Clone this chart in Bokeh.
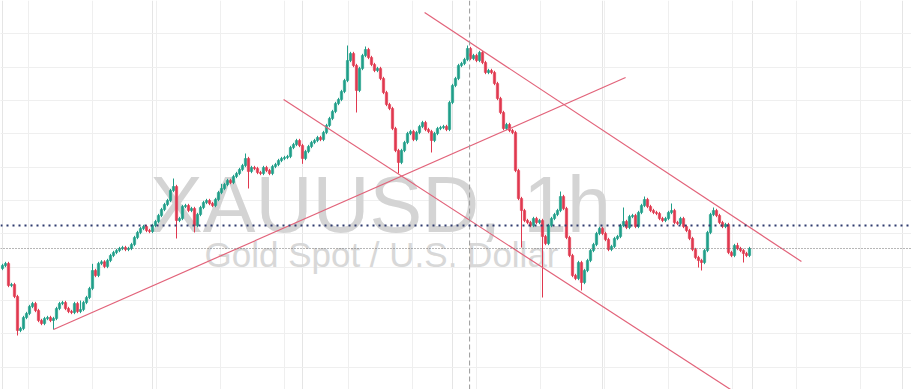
from bokeh.plotting import figure
from bokeh.models import ColumnDataSource, Range1d, Span, Label, Grid, FixedTicker
from bokeh.embed import file_html
from bokeh.resources import INLINE

# ---- data (hourly XAUUSD closes) ----
first_open = 2329.6
closes = [
    2330.5, 2331.1, 2324.5, 2324.8, 2321.2, 2311.0, 2311.6, 2314.9, 2316.1, 2318.2,
    2319.1, 2317.0, 2314.0, 2313.1, 2314.6, 2314.9, 2314.0, 2314.6, 2317.6, 2319.1,
    2319.4, 2317.6, 2316.7, 2316.4, 2319.1, 2316.7, 2317.3, 2319.4, 2320.9, 2323.6,
    2329.0, 2327.5, 2331.1, 2331.6, 2330.2, 2332.0, 2333.5, 2334.4, 2335.0, 2335.6,
    2335.9, 2335.3, 2335.6, 2336.8, 2338.9, 2340.4, 2341.6, 2342.2, 2341.0, 2340.7,
    2342.5, 2343.7, 2345.5, 2347.3, 2348.8, 2350.0, 2353.0, 2354.2, 2344.0, 2344.6,
    2348.2, 2348.5, 2347.0, 2347.6, 2342.5, 2345.8, 2347.9, 2349.4, 2350.0, 2349.1,
    2348.5, 2350.3, 2352.4, 2353.6, 2354.8, 2356.0, 2355.4, 2357.2, 2358.1, 2359.3,
    2360.5, 2362.6, 2358.7, 2359.9, 2359.6, 2358.4, 2358.1, 2359.9, 2359.0, 2358.1,
    2360.2, 2360.8, 2362.0, 2362.6, 2362.9, 2363.2, 2365.9, 2366.8, 2368.0, 2366.5,
    2362.6, 2364.7, 2366.2, 2367.4, 2368.0, 2368.9, 2368.3, 2370.4, 2372.5, 2374.6,
    2376.7, 2379.1, 2380.3, 2382.7, 2386.0, 2392.0, 2394.1, 2390.5, 2383.0, 2389.6,
    2393.5, 2395.3, 2392.9, 2390.8, 2389.0, 2389.6, 2386.6, 2382.4, 2378.8, 2377.6,
    2371.6, 2365.0, 2361.4, 2365.0, 2367.4, 2370.1, 2370.7, 2368.3, 2370.4, 2372.2,
    2373.4, 2371.3, 2370.7, 2368.0, 2370.1, 2371.6, 2371.9, 2372.2, 2371.3, 2379.4,
    2384.5, 2386.6, 2390.5, 2391.1, 2392.3, 2395.6, 2392.6, 2393.5, 2392.0, 2394.4,
    2391.4, 2388.4, 2389.0, 2388.4, 2385.1, 2380.6, 2376.4, 2371.6, 2372.8, 2371.0,
    2370.4, 2359.0, 2350.6, 2347.0, 2344.0, 2343.4, 2342.5, 2344.6, 2343.4, 2344.0,
    2339.2, 2337.1, 2342.5, 2344.6, 2345.8, 2347.0, 2351.2, 2347.6, 2338.9, 2333.5,
    2327.5, 2326.6, 2331.4, 2325.4, 2329.0, 2332.0, 2335.0, 2336.8, 2340.1, 2341.6,
    2340.1, 2338.3, 2335.3, 2336.2, 2338.6, 2339.2, 2342.5, 2343.7, 2341.9, 2345.2,
    2345.5, 2342.2, 2346.4, 2348.5, 2350.3, 2348.2, 2347.0, 2346.4, 2346.1, 2344.6,
    2344.0, 2344.6, 2346.4, 2347.0, 2343.4, 2343.1, 2344.6, 2342.2, 2341.0, 2338.6,
    2335.3, 2332.9, 2332.0, 2331.4, 2335.0, 2340.4, 2345.8, 2347.0, 2345.5, 2343.4,
    2342.2, 2342.8, 2334.4, 2333.5, 2336.5, 2335.6, 2335.0, 2334.1, 2333.5, 2335.6,
]
# notable wick extremes (candle index -> price); others have short wicks
wick_highs = {5: 2320.5, 30: 2331.0, 57: 2356.6, 81: 2364.1, 115: 2396.5, 121: 2396.2,
              155: 2396.5, 186: 2352.7, 207: 2347.9, 214: 2351.2, 223: 2349.1, 237: 2347.9,
              245: 2337.3, 73: 2355.0, 26: 2320.0}
wick_lows = {5: 2309.5, 17: 2311.3, 58: 2338.6, 64: 2340.4, 82: 2353.6, 118: 2376.4,
             132: 2358.1, 143: 2364.4, 173: 2335.9, 180: 2320.9, 193: 2323.0,
             232: 2329.9, 233: 2329.0, 247: 2331.4, 100: 2361.0}
short_wick = 0.5

# trend lines: (candle index, price) -> (candle index, price)
trend_lines = [
    (17.0, 2311.3, 207.7, 2386.9),
    (93.7, 2380.3, 242.7, 2293.3),
    (140.7, 2406.4, 266.3, 2331.7),
]
level_line = 2342.5        # blue dotted horizontal level
last_price = 2335.6        # grey dotted last-price line
cursor_index = 155.7       # vertical dashed crosshair

title_text = "XAUUSD, 1h"
subtitle_text = "Gold Spot / U.S. Dollar"

# ---- build OHLC ----
n = len(closes)
opens = [first_open] + closes[:-1]
highs, lows, colors, idx = [], [], [], []
for i in range(n):
    o, c = opens[i], closes[i]
    hi = max(o, c) + short_wick
    lo = min(o, c) - short_wick
    hi = max(hi, wick_highs.get(i, hi))
    lo = min(lo, wick_lows.get(i, lo))
    highs.append(hi)
    lows.append(lo)
    colors.append("#1f9e89" if c >= o else "#e0384f")
    idx.append(i)

src = ColumnDataSource(dict(
    x=idx, open=opens, close=closes, high=highs, low=lows, color=colors,
    top=[max(o, c) for o, c in zip(opens, closes)],
    bottom=[min(o, c) for o, c in zip(opens, closes)],
))

W, H = 911, 389
px = 3.0                      # pixels per candle
x0 = -2.0 / 3.0
y_top = 2410.0
per_px = 0.3

p = figure(width=W, height=H, output_backend="svg", toolbar_location=None,
           x_range=Range1d(x0, x0 + W / px), y_range=Range1d(y_top - H * per_px, y_top),
           x_axis_location=None, y_axis_location=None, min_border=0,
           background_fill_color="white", border_fill_color="white")
p.outline_line_color = None

grid_x = [8.5 + (64.0 / 3.0) * k for k in range(15)]
grid_y = [2300 + 10 * k for k in range(11)]
p.add_layout(Grid(dimension=0, ticker=FixedTicker(ticks=grid_x),
                  grid_line_color="#efefef", grid_line_width=1))
p.add_layout(Grid(dimension=1, ticker=FixedTicker(ticks=grid_y),
                  grid_line_color="#efefef", grid_line_width=1))

# watermark
p.add_layout(Label(x=380, y=H - 204, x_units="screen", y_units="screen", text=title_text,
                   text_align="center", text_baseline="alphabetic",
                   text_font="Liberation Sans", text_font_size="79px",
                   text_color="#d4d4d4", level="underlay"))
p.add_layout(Label(x=381, y=H - 254, x_units="screen", y_units="screen", text=subtitle_text,
                   text_align="center", text_baseline="alphabetic",
                   text_font="Liberation Sans", text_font_size="35px",
                   text_color="#d8d8d8", level="underlay"))

# horizontal / vertical guide lines
p.add_layout(Span(location=cursor_index, dimension="height", line_color="#9a9a9a",
                  line_width=1, line_dash="5 3"))
p.add_layout(Span(location=last_price, dimension="width", line_color="#6f6f6f",
                  line_width=1, line_dash="1 2"))
p.add_layout(Span(location=level_line, dimension="width", line_color="#2e3b6e",
                  line_width=2, line_dash="2 4"))

# candles
p.segment(x0="x", y0="low", x1="x", y1="high", color="color", line_width=1, source=src)
p.vbar(x="x", top="top", bottom="bottom", width=0.8, fill_color="color",
       line_color="color", line_width=0.5, source=src)

# trend lines
for (a, pa, b, pb) in trend_lines:
    p.line([a, b], [pa, pb], line_color="#e2637a", line_width=1.2)

open("out.html", "w").write(file_html(p, INLINE))
